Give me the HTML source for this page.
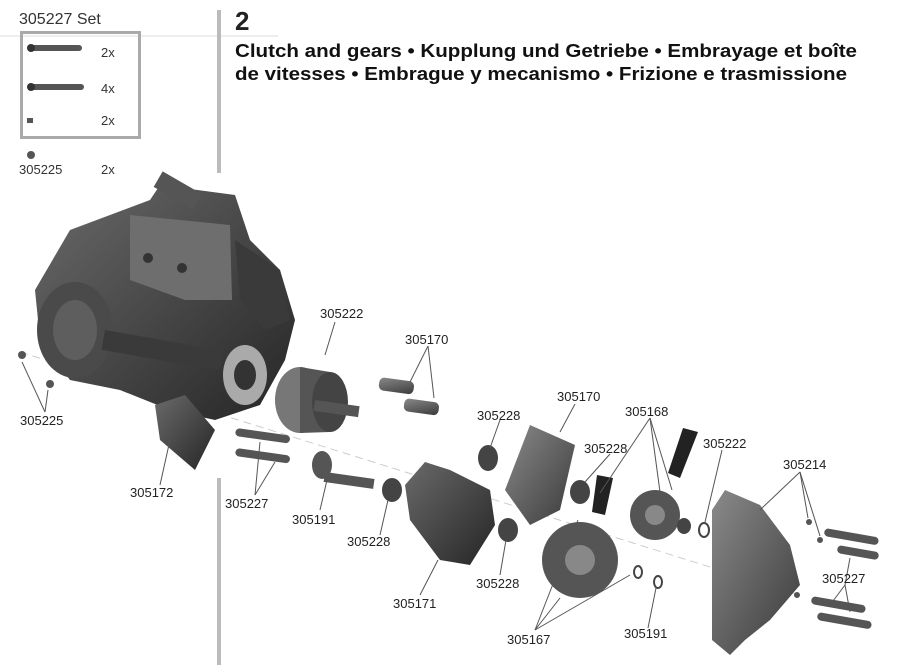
<!DOCTYPE html>
<html><head><meta charset="utf-8"><style>
html,body{margin:0;padding:0;background:#fff;}
svg{display:block;font-family:"Liberation Sans",sans-serif;}
</style></head><body>
<svg width="900" height="665" viewBox="0 0 900 665" xmlns="http://www.w3.org/2000/svg">
<defs>
<linearGradient id="g1" x1="0" y1="0" x2="1" y2="1"><stop offset="0" stop-color="#6a6a6a"/><stop offset="1" stop-color="#252525"/></linearGradient>
<linearGradient id="g2" x1="0" y1="0" x2="1" y2="1"><stop offset="0" stop-color="#8a8a8a"/><stop offset="1" stop-color="#3a3a3a"/></linearGradient>
</defs>
<line x1="0" y1="36" x2="278" y2="36" stroke="#ddd" stroke-width="1"/>
<rect x="217" y="10" width="4" height="163" fill="#bbb"/>
<rect x="217" y="478" width="4" height="187" fill="#bbb"/>
<text x="19" y="24" font-size="16" fill="#333">305227 Set</text>
<rect x="21.5" y="32.5" width="118" height="105" fill="none" stroke="#aaa" stroke-width="3"/>
<rect x="30" y="45" width="52" height="6" rx="3" fill="#555"/><circle cx="31" cy="48" r="4" fill="#333"/>
<rect x="30" y="84" width="54" height="6" rx="3" fill="#555"/><circle cx="31" cy="87" r="4" fill="#333"/>
<rect x="27" y="118" width="6" height="5" fill="#555"/>
<text x="101" y="57" font-size="13" fill="#333">2x</text>
<text x="101" y="93" font-size="13" fill="#333">4x</text>
<text x="101" y="125" font-size="13" fill="#333">2x</text>
<circle cx="31" cy="155" r="4" fill="#555"/>
<text x="19" y="174" font-size="13" fill="#333">305225</text>
<text x="101" y="174" font-size="13" fill="#333">2x</text>
<text x="235" y="30" font-size="26" font-weight="bold" fill="#222">2</text>
<text x="235" y="57" font-size="18" font-weight="bold" fill="#111" textLength="622" lengthAdjust="spacingAndGlyphs">Clutch and gears • Kupplung und Getriebe • Embrayage et boîte</text>
<text x="235" y="80" font-size="18" font-weight="bold" fill="#111" textLength="612" lengthAdjust="spacingAndGlyphs">de vitesses • Embrague y mecanismo • Frizione e trasmissione</text>
<line x1="20" y1="352" x2="800" y2="595" stroke="#ccc" stroke-dasharray="8,5"/>
<path d="M70 230 L150 200 L160 185 L235 195 L250 240 L280 270 L295 320 L285 360 L260 405 L215 420 L170 410 L120 390 L70 380 L40 340 L35 290 Z" fill="url(#g1)"/>
<path d="M130 215 L230 225 L232 300 L185 300 L130 280 Z" fill="#6e6e6e"/>
<path d="M235 240 L280 270 L290 320 L265 330 L240 300 Z" fill="#3a3a3a"/>
<ellipse cx="75" cy="330" rx="38" ry="48" fill="#4a4a4a"/>
<ellipse cx="75" cy="330" rx="22" ry="30" fill="#5e5e5e"/>
<rect x="105" y="330" width="120" height="20" fill="#3a3a3a" transform="rotate(10 105 330)"/>
<ellipse cx="245" cy="375" rx="22" ry="30" fill="#aaa"/>
<ellipse cx="245" cy="375" rx="11" ry="15" fill="#333"/>
<rect x="155" y="180" width="45" height="18" fill="#555" transform="rotate(30 175 190)"/>
<circle cx="148" cy="258" r="5" fill="#333"/><circle cx="182" cy="268" r="5" fill="#333"/>
<ellipse cx="300" cy="400" rx="25" ry="33" fill="#777"/>
<path d="M300 367 L330 372 L330 432 L300 433 Z" fill="#555"/>
<ellipse cx="330" cy="402" rx="18" ry="30" fill="#444"/>
<rect x="315" y="400" width="45" height="11" fill="#555" transform="rotate(8 315 400)"/>
<rect x="380" y="377" width="35" height="13" rx="5" fill="url(#g2)" transform="rotate(8 380 377)"/>
<rect x="405" y="398" width="35" height="13" rx="5" fill="url(#g2)" transform="rotate(8 405 398)"/>
<rect x="236" y="428" width="55" height="8" rx="4" fill="#555" transform="rotate(8 236 428)"/>
<rect x="236" y="448" width="55" height="8" rx="4" fill="#555" transform="rotate(8 236 448)"/>
<circle cx="22" cy="355" r="4" fill="#555"/><circle cx="50" cy="384" r="4" fill="#555"/>
<path d="M155 405 L185 395 L215 430 L195 470 L160 440 Z" fill="url(#g1)"/>
<ellipse cx="322" cy="465" rx="10" ry="14" fill="#555"/>
<rect x="325" y="472" width="50" height="10" fill="#555" transform="rotate(8 325 472)"/>
<ellipse cx="392" cy="490" rx="10" ry="12" fill="#444"/>
<path d="M405 485 L425 462 L450 470 L490 490 L495 525 L470 565 L440 560 L410 520 Z" fill="url(#g1)"/>
<ellipse cx="488" cy="458" rx="10" ry="13" fill="#444"/>
<ellipse cx="508" cy="530" rx="10" ry="12" fill="#444"/>
<path d="M505 490 L530 425 L575 445 L560 510 L530 525 Z" fill="url(#g2)"/>
<ellipse cx="580" cy="492" rx="10" ry="12" fill="#444"/>
<circle cx="580" cy="560" r="38" fill="#555"/><circle cx="580" cy="560" r="15" fill="#888"/>
<path d="M597 475 L613 478 L605 515 L592 512 Z" fill="#222"/>
<circle cx="655" cy="515" r="25" fill="#555"/><circle cx="655" cy="515" r="10" fill="#888"/>
<path d="M683 428 L698 432 L680 478 L668 473 Z" fill="#222"/>
<ellipse cx="684" cy="526" rx="7" ry="8" fill="#444"/>
<ellipse cx="704" cy="530" rx="5" ry="7" fill="none" stroke="#444" stroke-width="2"/>
<ellipse cx="638" cy="572" rx="4" ry="6" fill="none" stroke="#444" stroke-width="2"/>
<ellipse cx="658" cy="582" rx="4" ry="6" fill="none" stroke="#444" stroke-width="2"/>
<path d="M712 510 L725 490 L760 505 L790 545 L800 585 L770 620 L745 640 L730 655 L712 640 Z" fill="url(#g2)"/>
<circle cx="809" cy="522" r="3" fill="#555"/><circle cx="820" cy="540" r="3" fill="#555"/><circle cx="797" cy="595" r="3" fill="#555"/>
<rect x="825" y="528" width="55" height="8" rx="4" fill="#555" transform="rotate(10 825 528)"/>
<rect x="838" y="545" width="42" height="8" rx="4" fill="#555" transform="rotate(10 838 545)"/>
<rect x="812" y="596" width="55" height="8" rx="4" fill="#555" transform="rotate(10 812 596)"/>
<rect x="818" y="612" width="55" height="8" rx="4" fill="#555" transform="rotate(10 818 612)"/>
<g stroke="#555" stroke-width="1" fill="none">
<line x1="335" y1="322" x2="325" y2="355"/>
<line x1="428" y1="346" x2="410" y2="382"/><line x1="428" y1="346" x2="434" y2="398"/>
<line x1="45" y1="412" x2="22" y2="362"/><line x1="45" y1="412" x2="48" y2="390"/>
<line x1="160" y1="485" x2="170" y2="440"/>
<line x1="255" y1="495" x2="260" y2="442"/><line x1="255" y1="495" x2="275" y2="462"/>
<line x1="320" y1="510" x2="327" y2="480"/>
<line x1="380" y1="535" x2="388" y2="500"/>
<line x1="420" y1="595" x2="438" y2="560"/>
<line x1="500" y1="420" x2="490" y2="448"/>
<line x1="575" y1="404" x2="560" y2="432"/>
<line x1="610" y1="454" x2="585" y2="482"/>
<line x1="500" y1="575" x2="506" y2="540"/>
<line x1="650" y1="418" x2="600" y2="493"/><line x1="650" y1="418" x2="660" y2="492"/><line x1="650" y1="418" x2="672" y2="490"/>
<line x1="722" y1="450" x2="705" y2="522"/>
<line x1="535" y1="630" x2="560" y2="598"/><line x1="535" y1="630" x2="578" y2="520"/><line x1="535" y1="630" x2="630" y2="575"/>
<line x1="648" y1="628" x2="656" y2="588"/>
<line x1="800" y1="472" x2="760" y2="510"/><line x1="800" y1="472" x2="808" y2="518"/><line x1="800" y1="472" x2="820" y2="536"/>
<line x1="845" y1="585" x2="850" y2="558"/><line x1="845" y1="585" x2="830" y2="605"/><line x1="845" y1="585" x2="850" y2="612"/>
</g>
<g font-size="13" fill="#222">
<text x="320" y="318">305222</text>
<text x="405" y="344">305170</text>
<text x="20" y="425">305225</text>
<text x="130" y="497">305172</text>
<text x="225" y="508">305227</text>
<text x="292" y="524">305191</text>
<text x="347" y="546">305228</text>
<text x="393" y="608">305171</text>
<text x="477" y="420">305228</text>
<text x="557" y="401">305170</text>
<text x="584" y="453">305228</text>
<text x="625" y="416">305168</text>
<text x="703" y="448">305222</text>
<text x="476" y="588">305228</text>
<text x="783" y="469">305214</text>
<text x="822" y="583">305227</text>
<text x="507" y="644">305167</text>
<text x="624" y="638">305191</text>
</g>
</svg>
</body></html>
